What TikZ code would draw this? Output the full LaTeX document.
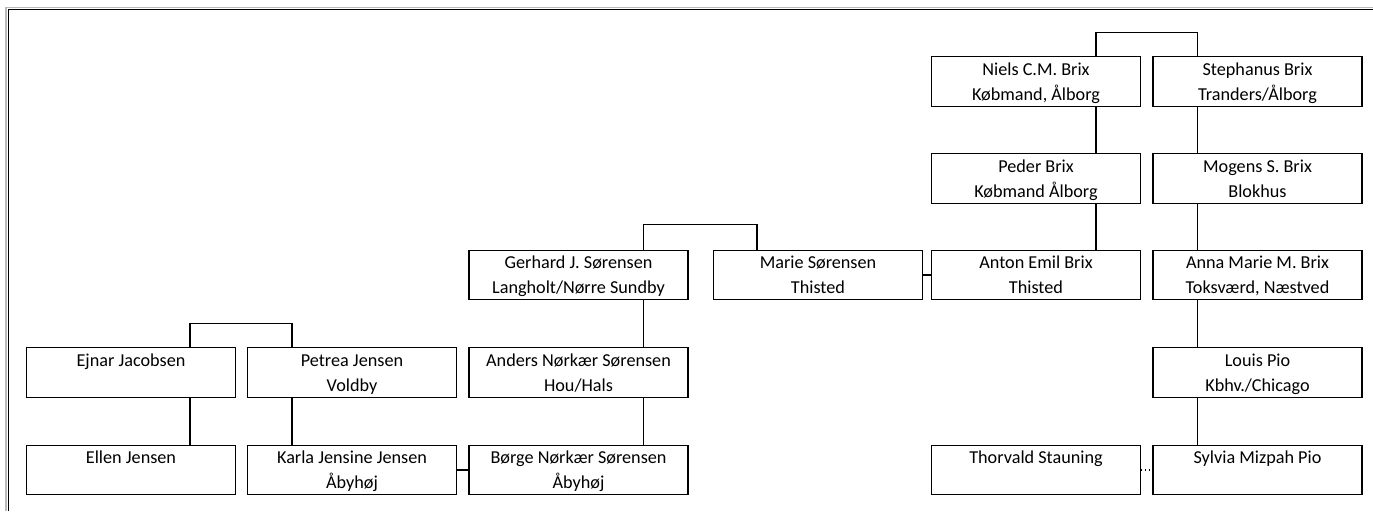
\documentclass[tikz,border=0pt]{standalone}
\usepackage{fontspec}
\setmainfont{Carlito}
\newcommand{\pstrut}{\rule[-0.25\baselineskip]{0pt}{\baselineskip}}
\tikzset{
  person/.style={draw, line width=0.8pt, inner sep=0pt,
    minimum width=209*0.75pt, minimum height=49*0.75pt, align=center,
    font=\fontsize{13.65}{18.5}\selectfont},
  wideperson/.style={person, minimum width=219*0.75pt},
  link/.style={line width=0.8pt},
}
\begin{document}
\begin{tikzpicture}[x=0.75pt, y=-0.75pt]
  \useasboundingbox (0,0) rectangle (1373,511);
  % window frame
  \draw[gray!55, line width=1.4pt] (6,511) -- (6,7.5) -- (1373,7.5);
  \draw[line width=1pt] (8.5,511) -- (8.5,9.5) -- (1373,9.5);

  % Brix side
  \node[person] (niels) at (1036,81.5) {\pstrut Niels C.M. Brix\\\pstrut Købmand, Ålborg};
  \node[person] (stephanus) at (1257.5,81.5) {\pstrut Stephanus Brix\\\pstrut Tranders/Ålborg};
  \node[person] (peder) at (1036,178.5) {\pstrut Peder Brix\\\pstrut Købmand Ålborg};
  \node[person] (mogens) at (1257.5,178.5) {\pstrut Mogens S. Brix\\\pstrut Blokhus};
  \node[person] (anton) at (1036,275) {\pstrut Anton Emil Brix\\\pstrut Thisted};
  \node[person] (anna) at (1257.5,275) {\pstrut Anna Marie M. Brix\\\pstrut Toksværd, Næstved};
  \node[person] (louis) at (1257.5,372.5) {\pstrut Louis Pio\\\pstrut Kbhv./Chicago};
  \node[person] (thorvald) at (1036,470) {\pstrut Thorvald Stauning\\\pstrut};
  \node[person] (sylvia) at (1257.5,470) {\pstrut Sylvia Mizpah Pio\\\pstrut};

  % Sørensen side
  \node[wideperson] (gerhard) at (578.5,275) {\pstrut Gerhard J. Sørensen\\\pstrut Langholt/Nørre Sundby};
  \node[person] (marie) at (818,275) {\pstrut Marie Sørensen\\\pstrut Thisted};
  \node[wideperson] (anders) at (578.5,372.5) {\pstrut Anders Nørkær Sørensen\\\pstrut Hou/Hals};
  \node[wideperson] (boerge) at (578.5,470) {\pstrut Børge Nørkær Sørensen\\\pstrut Åbyhøj};

  % Jensen side
  \node[person] (ejnar) at (131,372.5) {\pstrut Ejnar Jacobsen\\\pstrut};
  \node[person] (petrea) at (352,372.5) {\pstrut Petrea Jensen\\\pstrut Voldby};
  \node[person] (ellen) at (131,470) {\pstrut Ellen Jensen\\\pstrut};
  \node[person] (karla) at (352,470) {\pstrut Karla Jensine Jensen\\\pstrut Åbyhøj};

  % couples
  \draw[link] ([xshift=45pt]niels.north) -- ++(0,-24) -| ([xshift=-45pt]stephanus.north);
  \draw[link] ([xshift=48.4pt]gerhard.north) -- ++(0,-25) -| ([xshift=-45.75pt]marie.north);
  \draw[link] ([xshift=44.25pt]ejnar.north) -- ++(0,-24) -| ([xshift=-45pt]petrea.north);
  \draw[link] (marie.east) -- (anton.west);
  \draw[link] (karla.east) -- (boerge.west);
  \draw[link, dotted] (thorvald.east) -- (sylvia.west);

  % descent lines
  \foreach \a/\b/\dx in {niels/peder/45pt, peder/anton/45pt,
      stephanus/mogens/-45pt, mogens/anna/-45pt, anna/louis/-45pt, louis/sylvia/-45pt,
      gerhard/anders/48.4pt, anders/boerge/48.4pt,
      ejnar/ellen/44.25pt, petrea/karla/-45pt}
    \draw[link] ([xshift=\dx]\a.south) -- ([xshift=\dx]\b.north);
\end{tikzpicture}
\end{document}
